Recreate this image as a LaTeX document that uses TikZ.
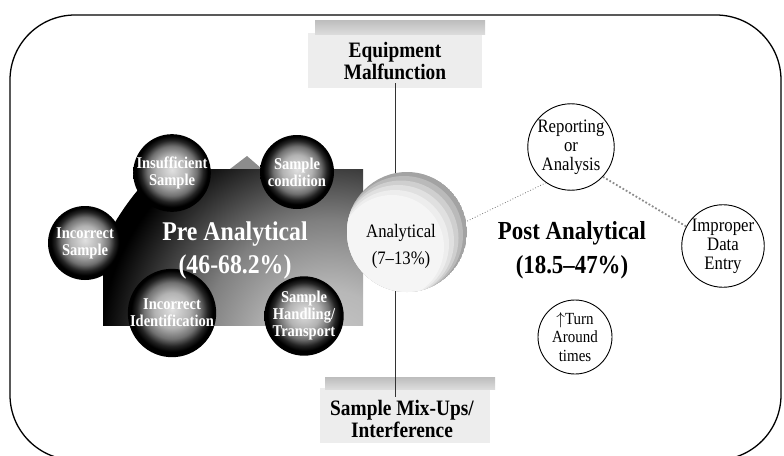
\documentclass[tikz,border=0pt]{standalone}
\usepackage{fontspec}
\setmainfont{Liberation Serif}[FakeStretch=0.88]
\usetikzlibrary{shapes.geometric}

% dark sphere: light mottled centre, black rim (path edge sits at 25bp)
\pgfdeclareradialshading{sphere}{\pgfpoint{0bp}{2bp}}{%
  color(0bp)=(black!12); color(10bp)=(black!30); color(16bp)=(black!56);
  color(20bp)=(black!86); color(23bp)=(black); color(50bp)=(black)}

% pre-analytical block: light toward its lower right corner, black elsewhere
\pgfdeclareradialshading{preshade}{\pgfpointorigin}{%
  color(0bp)=(black!22); color(6bp)=(black!28); color(13bp)=(black!50);
  color(19bp)=(black!80); color(23bp)=(black); color(50bp)=(black)}

\tikzset{
  sphere/.style={circle, shade, shading=sphere, minimum size=74pt, inner sep=0pt,
    text=white, align=center, font=\bfseries\fontsize{16.5}{17}\selectfont},
  ring/.style={circle, draw, line width=0.9pt, fill=white, minimum size=74pt,
    inner sep=0pt, align=center, font=\fontsize{19}{19}\selectfont},
  stipple/.style={fill=black!7},
  stippleband/.style={top color=black!26, bottom color=black!14},
  label/.style={align=center, font=\bfseries\fontsize{22}{22}\selectfont},
  link/.style={dotted, black!55, line width=0.8pt},
  linkwide/.style={dotted, black!45, line width=1.8pt},
}

\begin{document}
\begin{tikzpicture}[x=1pt, y=-1pt]
\useasboundingbox (0,0) rectangle (784,455);

% outer frame (bottom edge runs just below the page)
\begin{scope}
  \clip (0,0) rectangle (784,455);
  \draw[line width=1.3pt, rounded corners=65pt] (10,15) rectangle (781,460);
\end{scope}

% stippled label boxes
\fill[stipple] (308,33) rectangle (482,88);
\shade[stippleband] (315,20) rectangle (485,34);
\fill[stipple] (320,388) rectangle (490,443);
\shade[stippleband] (325,377) rectangle (495,389);

\node[label] (eq) at (395,61) {Equipment\\Malfunction};
\node[label] (mix) at (402,419) {Sample Mix-Ups/\\Interference};

% pre-analytical block
\fill[black!45] (230,169) -- (247,156) -- (262,169) -- cycle;
\begin{scope}
  \clip (103,169) rectangle (363,325);
  \shade[shading=preshade] (330,350) circle (250pt);
\end{scope}

% axis line through the analytical stage
\draw[line width=0.8pt, black!80] (eq.south) -- (eq.south |- mix.north);

% analytical stage: pale disc, grey crescent toward the upper right
\node[circle, minimum size=120pt, inner sep=0pt] (ana) at (407,232) {};
\begin{scope}
  \clip (ana.center) circle (60pt);
  \fill[black!36] (ana.center) circle (60pt);
  \fill[black!27] ([shift={(-3,3)}]ana.center) circle (59pt);
  \fill[black!19] ([shift={(-6,6)}]ana.center) circle (57.5pt);
  \fill[black!12] ([shift={(-9,9)}]ana.center) circle (56pt);
  \fill[black!7] ([shift={(-12,12)}]ana.center) circle (54pt);
  \fill[black!4] ([shift={(-15,15)}]ana.center) circle (52pt);
\end{scope}
\node[align=center, font=\fontsize{19}{27}\selectfont] (anatxt) at (401,246)
  {Analytical\\(7--13\%)};

% pre-analytical error sources
\node[sphere] (ins) at (172,173) {Insufficient\\Sample};
\node[sphere] (cond) at (297,172) {Sample\\condition};
\node[sphere] (incs) at (85,243) {Incorrect\\Sample};
\node[sphere] (ident) at (172,313) {Incorrect\\Identification};
\node[sphere] (hand) at (304,316) {Sample\\Handling/\\Transport};

\node[align=center, text=white, font=\bfseries\fontsize{27}{33}\selectfont] (pre)
  at (235,251) {Pre Analytical\\(46-68.2\%)};

% post-analytical stage
\node[ring] (rep) at (571,147) {Reporting\\or\\Analysis};
\node[ring] (imp) at (723,246) {Improper\\Data\\Entry};
\node[ring, font=\fontsize{17}{18.5}\selectfont] (turn) at (575,337)
  {$\uparrow$Turn\\Around\\times};

\draw[link] (rep.235) -- (ana.10);
\draw[linkwide] (rep.317) -- (imp.152);

\node[align=center, font=\bfseries\fontsize{26}{34}\selectfont] (post) at (572,250)
  {Post Analytical\\(18.5--47\%)};
\end{tikzpicture}
\end{document}
